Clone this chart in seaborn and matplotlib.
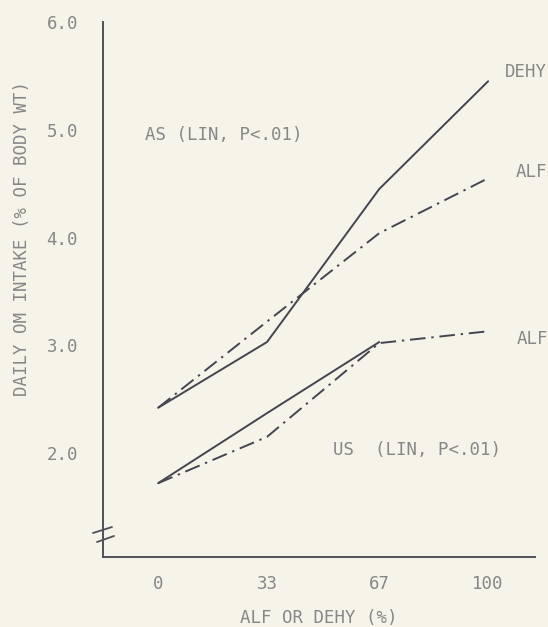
import matplotlib
matplotlib.use("Agg")
import matplotlib.pyplot as plt
from matplotlib.lines import Line2D
import seaborn as sns
import pandas as pd
import numpy as np

# ---- data ----
pct_levels = [0, 33, 67, 100]
pct_labels = ["0", "33", "67", "100"]

as_dehy = [2.42, 3.03, 4.45, 5.45]
as_alf = [2.42, 3.22, 4.04, 4.55]
us_dehy = [1.72, 2.37, 3.03]          # no 100% point drawn
us_alf = [1.72, 2.15, 3.02, 3.13]

y_ticks = [2.0, 3.0, 4.0, 5.0, 6.0]
y_tick_labels = ["2.0", "3.0", "4.0", "5.0", "6.0"]

rows = []
for diet, forage, vals in [("AS", "DEHY", as_dehy), ("AS", "ALF", as_alf),
                           ("US", "DEHY", us_dehy), ("US", "ALF", us_alf)]:
    for p, v in zip(pct_levels, vals):
        rows.append({"pct": p, "intake": v, "forage": forage,
                     "series": diet + "_" + forage})
df = pd.DataFrame(rows)

# ---- style ----
bg = "#f6f3e9"
line_col = "#45454f"
text_col = "#878787"
sns.set_style("white")
plt.rcParams["font.family"] = ["DejaVu Sans Mono", "DejaVu Sans"]
plt.rcParams["font.size"] = 12.5

W, H = 548, 627
fig = plt.figure(figsize=(W / 100, H / 100), dpi=100, facecolor=bg)
ax = fig.add_axes([103 / W, 1 - 557 / H, (535 - 103) / W, (557 - 22) / H])
ax.set_facecolor(bg)

sns.lineplot(data=df, x="pct", y="intake", style="forage", units="series",
             estimator=None, color=line_col, linewidth=1.4,
             dashes={"DEHY": "", "ALF": (8, 3, 1.2, 3)},
             legend=False, ax=ax)

ax.set_xlim(-16.7, 114.2)
ax.set_ylim(1.035, 6.0)
ax.set_xticks(pct_levels)
ax.set_xticklabels(pct_labels)
ax.set_yticks(y_ticks)
ax.set_yticklabels(y_tick_labels)
ax.set_xlabel("")
ax.set_ylabel("")

for s in ["top", "right"]:
    ax.spines[s].set_visible(False)
for s in ["left", "bottom"]:
    ax.spines[s].set_color("#50505a")
    ax.spines[s].set_linewidth(1.4)

ax.tick_params(axis="y", direction="in", length=6, width=1.3, color="#50505a",
               pad=18, labelcolor=text_col, labelsize=12.5)
ax.tick_params(axis="x", direction="in", length=6, width=1.3, color="#50505a",
               pad=13, labelcolor=text_col, labelsize=12.5)

# annotations
ax.text(-3.9, 4.95, "AS (LIN, P<.01)", ha="left", va="center", color=text_col)
ax.text(53, 2.03, "US  (LIN, P<.01)", ha="left", va="center", color=text_col)
ax.text(105.0, 5.54, "DEHY", ha="left", va="center", color=text_col, clip_on=False)
ax.text(108.2, 4.61, "ALF", ha="left", va="center", color=text_col, clip_on=False)
ax.text(108.8, 3.06, "ALF", ha="left", va="center", color=text_col, clip_on=False)

# axis titles
fig.text(319 / W, 1 - 618 / H, "ALF OR DEHY (%)", ha="center", va="center",
         color=text_col, fontsize=12.5)
fig.text(22 / W, 1 - 238 / H, "DAILY OM INTAKE (% OF BODY WT)", ha="center",
         va="center", rotation=90, color=text_col, fontsize=12.5)

# axis break marks
for (x0, y0, x1, y1) in [(93, 533, 112, 527), (97, 542, 114, 536)]:
    fig.add_artist(Line2D([x0 / W, x1 / W], [1 - y0 / H, 1 - y1 / H],
                          transform=fig.transFigure, color="#50505a", lw=1.3))

fig.savefig("out.png", dpi=100, facecolor=bg)
